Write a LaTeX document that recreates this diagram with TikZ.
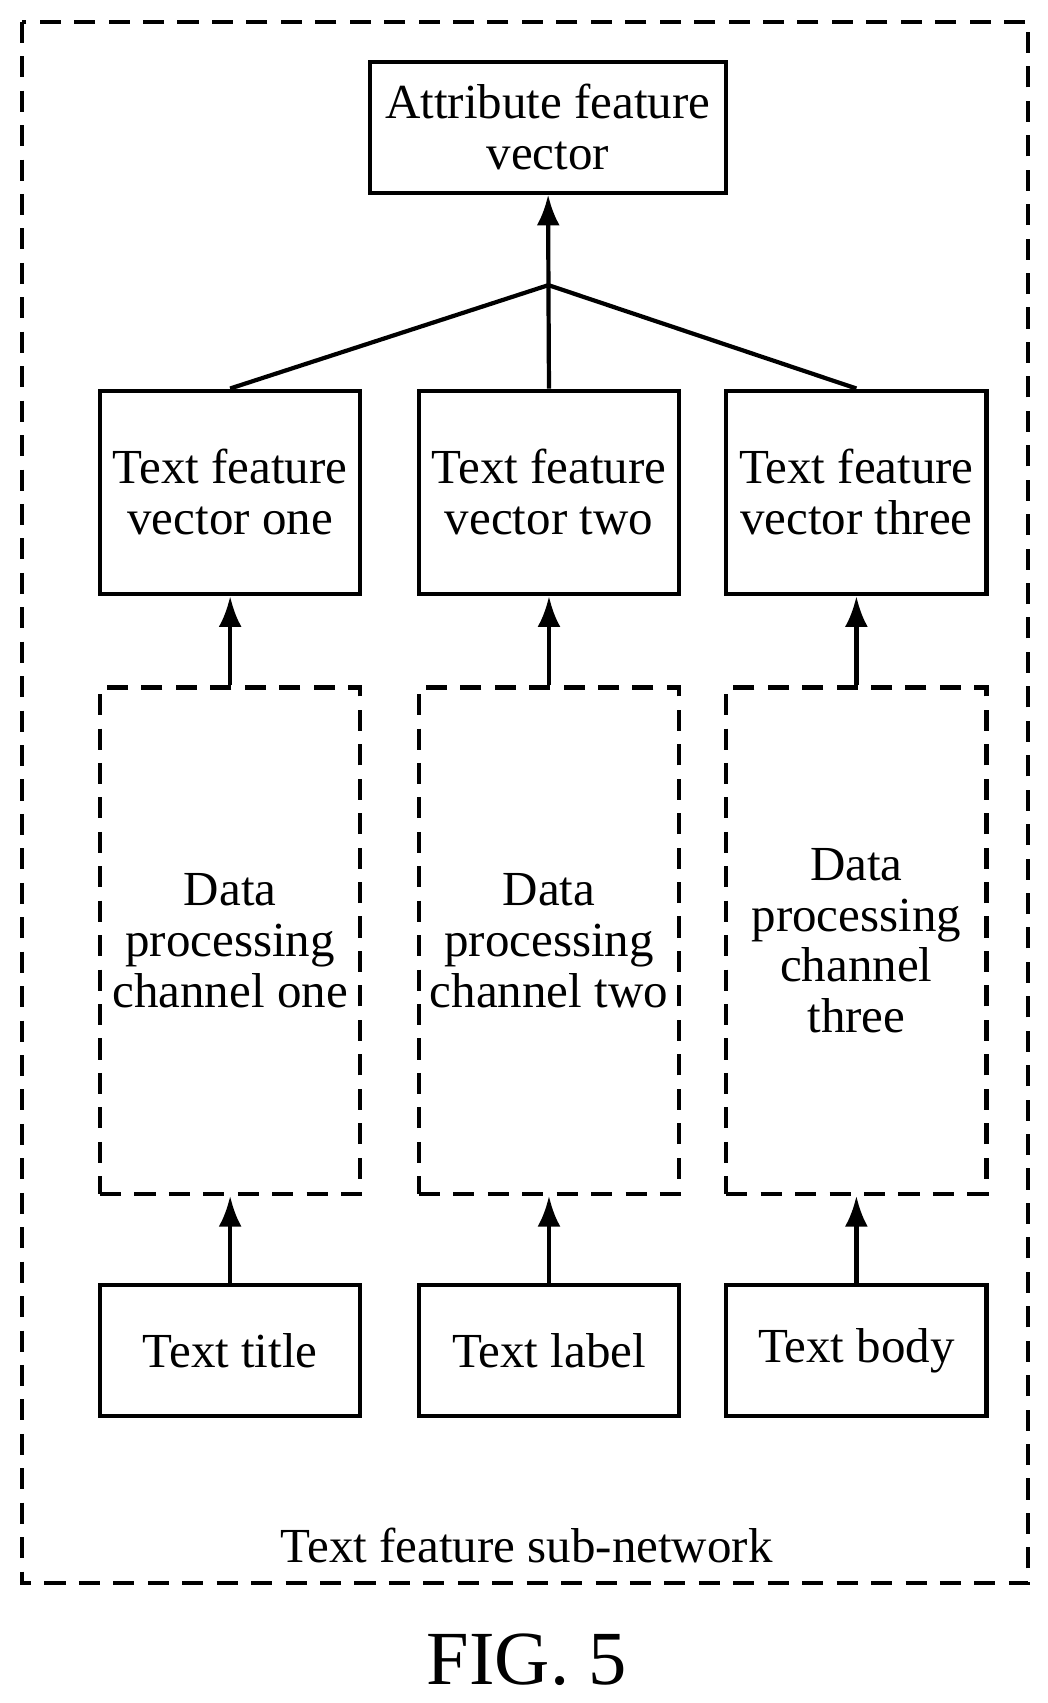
\documentclass[tikz,border=0pt]{standalone}
\usepackage{fontspec}
\setmainfont{Liberation Serif}
\usetikzlibrary{arrows.meta}
\begin{document}
\begin{tikzpicture}[x=0.01cm,y=-0.01cm,
 lw/.style={line width=1.1pt},
 box/.style={lw,draw,minimum width=2.39cm,align=center,inner sep=0pt,font=\fontsize{12.8}{13.3}\selectfont},
 dbox/.style={box,dash pattern=on 5.5pt off 3.5pt},
 arr/.style={lw,-{Latex[length=8pt,width=6pt]}}]
\useasboundingbox (0,0) rectangle (963,1565);
\draw[lw,dash pattern=on 5.5pt off 3.5pt] (20,20) rectangle (945,1455);
\node[box,minimum width=3.27cm,minimum height=1.2cm] (att) at (503.5,117) {Attribute feature\\vector};
\foreach \n/\x/\a/\b in {1/211.5/Text title/one, 2/504.5/Text label/two, 3/787/Text body/three}{
  \node[box,minimum height=1.87cm] (v\n) at (\x,452.5) {Text feature\\vector \b};
  \node[box,minimum height=1.2cm] (t\n) at (\x,1241) {\a};
}
\node[dbox,minimum height=4.65cm] (c1) at (211.5,864.5) {Data\\processing\\channel one};
\node[dbox,minimum height=4.65cm] (c2) at (504.5,864.5) {Data\\processing\\channel two};
\node[dbox,minimum height=4.65cm] (c3) at (787,864.5) {Data\\processing\\channel\\three};
\coordinate (j) at (504,262);
\foreach \n in {1,2,3}{
  \draw[arr] (t\n) -- (c\n);
  \draw[arr] (c\n) -- (v\n);
  \draw[lw] (v\n.north) -- (j);
}
\draw[arr] (j) -- (att);
\node[font=\fontsize{12.8}{14}\selectfont] (lab) at (484,1420) {Text feature sub-network};
\node[font=\fontsize{20}{22}\selectfont] (fig) at (484,1525) {FIG. 5};
\end{tikzpicture}
\end{document}
